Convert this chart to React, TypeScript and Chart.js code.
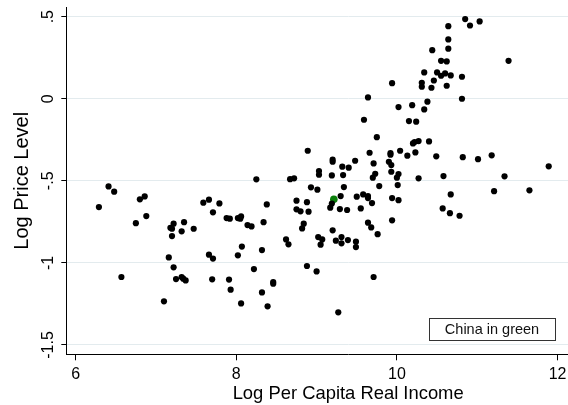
import { useEffect, useRef } from 'react';
import { Chart, registerables } from 'chart.js';

Chart.register(...registerables);

// Log per-capita real income (x) and log price level (y) for each country.
const incomeLog = [
  10.85, 10.91, 11.03, 10.64, 10.64, 10.64, 10.44, 10.55, 10.62, 11.39,
  10.34, 10.5, 10.55, 10.6, 10.67, 10.81, 10.31, 10.46, 10.31, 10.43,
  10.62, 9.94, 9.64, 10.81, 10.02, 10.19, 10.38, 10.34, 9.59, 10.15,
  10.24, 9.75, 10.2, 10.22, 10.27, 10.4, 8.89, 9.66, 9.92, 9.92,
  10.04, 10.13, 10.23, 10.49, 10.82, 11.01, 11.18, 9.2, 9.2, 9.48,
  9.32, 9.4, 9.71, 9.9, 9.93, 11.89, 9.03, 9.03, 9.19, 9.33,
  9.73, 9.7, 9.93, 10.02, 10.0, 10.27, 10.58, 11.34, 8.93, 9.01,
  9.34, 9.78, 10.01, 8.88, 9.3, 9.19, 9.17, 9.29, 9.38, 9.5,
  9.58, 9.64, 9.64, 9.69, 9.55, 9.94, 10.02, 8.8, 8.9, 8.84,
  8.82, 9.2, 9.64, 9.68, 9.76, 9.94, 9.02, 9.07, 9.05, 9.24,
  9.31, 9.31, 9.39, 9.49, 9.49, 10.57, 10.66, 10.78, 10.67, 11.21,
  11.65, 8.88, 9.0, 9.71, 9.27, 8.75, 6.41, 6.48, 6.29, 6.8,
  6.86, 6.88, 6.75, 6.57, 7.18, 7.22, 7.2, 7.35, 7.32, 7.2,
  7.47, 7.16, 7.22, 7.25, 7.32, 7.34, 7.37, 7.1, 7.59, 7.66,
  7.79, 7.71, 7.88, 7.92, 8.02, 8.06, 8.05, 8.14, 8.19, 8.34,
  8.38, 8.25, 8.67, 8.72, 8.75, 8.62, 8.65, 8.07, 8.02, 7.66,
  7.71, 8.32, 8.22, 7.7, 7.91, 7.93, 8.32, 8.46, 8.46, 8.06,
  8.39,
];

const priceLog = [
  0.485, 0.446, 0.471, 0.442, 0.361, 0.305, 0.296, 0.231, 0.227, 0.231,
  0.16, 0.16, 0.14, 0.154, 0.142, 0.134, 0.097, 0.111, 0.073, 0.067,
  0.079, 0.095, 0.008, 0.0, -0.051, -0.039, -0.018, -0.065, -0.128, -0.136,
  -0.14, -0.234, -0.272, -0.264, -0.258, -0.26, -0.317, -0.329, -0.331, -0.341,
  -0.317, -0.347, -0.327, -0.351, -0.356, -0.368, -0.345, -0.371, -0.384, -0.378,
  -0.414, -0.42, -0.394, -0.384, -0.404, -0.412, -0.441, -0.463, -0.467, -0.465,
  -0.457, -0.481, -0.445, -0.459, -0.481, -0.485, -0.471, -0.473, -0.54, -0.554,
  -0.538, -0.532, -0.526, -0.63, -0.593, -0.639, -0.664, -0.672, -0.678, -0.597,
  -0.583, -0.593, -0.605, -0.636, -0.668, -0.605, -0.618, -0.686, -0.688, -0.761,
  -0.79, -0.802, -0.755, -0.784, -0.825, -0.741, -0.843, -0.857, -0.889, -0.865,
  -0.843, -0.881, -0.861, -0.871, -0.904, -0.668, -0.697, -0.713, -0.583, -0.563,
  -0.558, -1.019, -1.052, -1.086, -1.301, -0.621, -0.534, -0.566, -0.66, -0.613,
  -0.595, -0.715, -0.758, -1.086, -0.786, -0.761, -0.792, -0.752, -0.808, -0.837,
  -0.792, -0.967, -1.027, -1.099, -1.086, -1.096, -1.107, -1.234, -0.633, -0.615,
  -0.638, -0.692, -0.727, -0.731, -0.727, -0.717, -0.731, -0.77, -0.778, -0.752,
  -0.644, -0.491, -0.49, -0.485, -0.674, -0.857, -0.887, -0.901, -0.954, -0.95,
  -0.974, -0.922, -1.038, -1.1, -1.102, -1.163, -1.18, -1.117, -1.127, -1.247,
  -1.265,
];

// Highlighted country
const chinaIncomeLog = [9.215];
const chinaPriceLog = [-0.613];

const xTicks = [6, 8, 10, 12];
const yTicks = [-1.5, -1, -0.5, 0, 0.5];
const yTickLabels = ['-1.5', '-1', '-.5', '0', '.5'];

const xTitle = 'Log Per Capita Real Income';
const yTitle = 'Log Price Level';
const noteText = 'China in green';

const FONT = '"Liberation Sans", Arial, Helvetica, sans-serif';

// The plot region runs past the right edge of the visible frame.
const CANVAS_W = 634;
const CANVAS_H = 405;
const VIEW_W = 568;

// Vertical tick labels on the y axis, reading bottom to top.
const yTickLabelPlugin = {
  id: 'yTickLabels',
  afterDraw(chart: any) {
    const { ctx } = chart;
    const y = chart.scales.y;
    ctx.save();
    ctx.font = `16px ${FONT}`;
    ctx.fillStyle = '#000';
    ctx.textAlign = 'center';
    ctx.textBaseline = 'alphabetic';
    yTicks.forEach((v, i) => {
      const py = y.getPixelForValue(v);
      ctx.save();
      ctx.translate(y.right - 13, py);
      ctx.rotate(-Math.PI / 2);
      ctx.fillText(yTickLabels[i], 0, 0);
      ctx.restore();
    });
    ctx.restore();
  },
};

// Boxed note in the lower-right part of the plot.
const notePlugin = {
  id: 'noteBox',
  afterDatasetsDraw(chart: any) {
    const { ctx, chartArea } = chart;
    const w = 126;
    const h = 22;
    const x = Math.round(chartArea.right - 75 - w);
    const y = Math.round(chartArea.bottom - 14 - h);
    ctx.save();
    ctx.fillStyle = '#fff';
    ctx.fillRect(x, y, w, h);
    ctx.strokeStyle = '#333';
    ctx.lineWidth = 1;
    ctx.strokeRect(x + 0.5, y + 0.5, w, h);
    ctx.fillStyle = '#111';
    ctx.font = `14.5px ${FONT}`;
    ctx.textAlign = 'center';
    ctx.textBaseline = 'middle';
    ctx.fillText(noteText, x + w / 2, y + h / 2 + 1);
    ctx.restore();
  },
};

export default function App() {
  const ref = useRef<HTMLCanvasElement>(null);

  useEffect(() => {
    const canvas = ref.current;
    if (!canvas) return;

    const points = incomeLog.map((x, i) => ({ x, y: priceLog[i] }));
    const china = chinaIncomeLog.map((x, i) => ({ x, y: chinaPriceLog[i] }));

    const chart = new Chart(canvas, {
      type: 'scatter',
      data: {
        datasets: [
          {
            data: points,
            backgroundColor: '#000',
            borderWidth: 0,
            pointRadius: 3.1,
          },
          {
            data: china,
            backgroundColor: '#0b7f0b',
            borderWidth: 0,
            pointRadius: 3.8,
          },
        ],
      },
      options: {
        animation: false,
        responsive: false,
        devicePixelRatio: 1,
        events: [],
        layout: { padding: { top: 7.3, left: 0, right: 0, bottom: 0 } },
        plugins: {
          legend: { display: false },
          tooltip: { enabled: false },
          title: { display: false },
        },
        scales: {
          x: {
            type: 'linear',
            min: 5.884,
            max: 12.902,
            afterBuildTicks: (s: any) => {
              s.ticks = xTicks.map((value) => ({ value }));
            },
            ticks: {
              autoSkip: false,
              maxRotation: 0,
              minRotation: 0,
              padding: 4.6,
              color: '#000',
              font: { family: FONT, size: 16 },
              callback: (v: any) => String(v),
            },
            grid: {
              drawOnChartArea: false,
              drawTicks: true,
              tickLength: 6,
              tickColor: '#000',
              tickWidth: 1,
            },
            border: { display: true, color: '#000', width: 1 },
            title: {
              display: true,
              text: xTitle,
              color: '#000',
              font: { family: FONT, size: 18.4 },
              padding: { top: 0, bottom: 0 },
            },
            afterFit: (s: any) => {
              s.height = 50.7;
              s.paddingLeft = 0;
              s.paddingRight = 0;
            },
          },
          y: {
            type: 'linear',
            min: -1.557,
            max: 0.557,
            afterBuildTicks: (s: any) => {
              s.ticks = yTicks.map((value) => ({ value }));
            },
            ticks: { display: false },
            grid: {
              color: '#e3ebee',
              lineWidth: 1,
              drawTicks: true,
              tickLength: 5,
              tickColor: '#000',
              tickWidth: 1,
            },
            border: { display: true, color: '#000', width: 1 },
            title: {
              display: true,
              text: yTitle,
              color: '#000',
              font: { family: FONT, size: 20 },
              padding: { top: 10.4, bottom: 0 },
            },
            afterFit: (s: any) => {
              s.width = 66.3;
              s.paddingTop = 0;
              s.paddingBottom = 0;
            },
          },
        },
      },
      plugins: [yTickLabelPlugin, notePlugin],
    });

    return () => chart.destroy();
  }, []);

  return (
    <div
      style={{
        position: 'absolute',
        left: 0,
        top: 0,
        width: VIEW_W,
        height: CANVAS_H,
        overflow: 'hidden',
        background: '#fff',
      }}
    >
      <canvas
        ref={ref}
        width={CANVAS_W}
        height={CANVAS_H}
        style={{ display: 'block', width: CANVAS_W, height: CANVAS_H }}
      />
    </div>
  );
}
